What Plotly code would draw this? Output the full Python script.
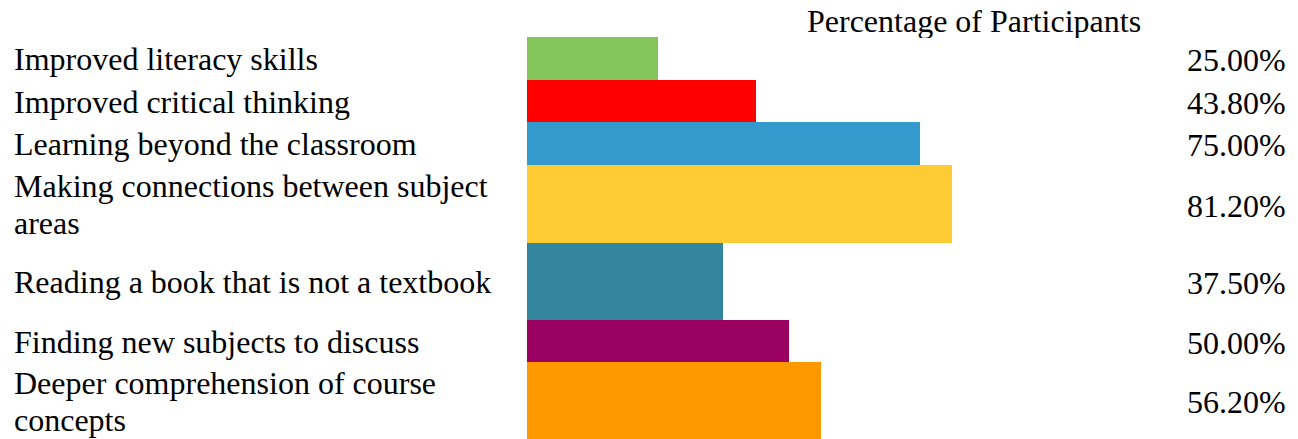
import numpy as np
import plotly.graph_objects as go

categories = [
    "Improved literacy skills",
    "Improved critical thinking",
    "Learning beyond the classroom",
    "Making connections between subject<br>areas",
    "Reading a book that is not a textbook",
    "Finding new subjects to discuss",
    "Deeper comprehension of course<br>concepts",
]
values = [25.0, 43.8, 75.0, 81.2, 37.5, 50.0, 56.2]
value_labels = ["25.00%", "43.80%", "75.00%", "81.20%", "37.50%", "50.00%", "56.20%"]
colors = ["#84C55B", "#FF0000", "#3499CC", "#FFCB33", "#33869E", "#990060", "#FF9900"]

# relative row heights (layout, not data)
row_heights = np.array([1.0, 0.98, 1.0, 1.82, 1.8, 0.98, 1.8])
edges = np.concatenate([[0], np.cumsum(row_heights)])
centers = (edges[:-1] + edges[1:]) / 2
total = edges[-1]

W, H = 1298, 439
ml, mt = 527, 37
mr = W - 1285
mb = 0
plot_w = W - ml - mr
plot_h = H - mt - mb
px_per_pct = 5.238
xmax = plot_w / px_per_pct

font = dict(family="Liberation Serif, Times New Roman, serif", size=32, color="#000000")
line_gap = 37

fig = go.Figure()
fig.add_trace(go.Bar(
    x=values, y=centers, width=row_heights, orientation="h",
    marker=dict(color=colors, line=dict(width=0)),
    base=0, hoverinfo="skip", showlegend=False,
))

annotations = []
for c, lab, vl in zip(centers, categories, value_labels):
    lines = lab.split("<br>")
    n = len(lines)
    for i, ln in enumerate(lines):
        shift = ((n - 1) / 2 - i) * line_gap - 1
        annotations.append(dict(
            x=(12 - ml) / plot_w, xref="paper", y=c, yref="y", yshift=shift,
            text=ln, showarrow=False, xanchor="left", yanchor="middle",
            align="left", font=font,
        ))
    annotations.append(dict(
        x=1, xref="paper", y=c, yref="y", xshift=3, yshift=-2,
        text=vl, showarrow=False, xanchor="right", yanchor="middle",
        align="right", font=font,
    ))
annotations.append(dict(
    x=(974 - ml) / plot_w, xref="paper", y=1 + (mt - 21) / plot_h, yref="paper",
    text="Percentage of Participants", showarrow=False, xanchor="center", yanchor="middle",
    height=34, valign="middle", font=font,
))

fig.update_layout(
    width=W, height=H,
    margin=dict(l=ml, r=mr, t=mt, b=mb, pad=0),
    paper_bgcolor="white", plot_bgcolor="white",
    xaxis=dict(range=[0, xmax], visible=False, fixedrange=True),
    yaxis=dict(range=[total, 0], visible=False, fixedrange=True),
    annotations=annotations,
    bargap=0,
)

fig.write_html(
    "out.html",
    config={"displayModeBar": False},
    post_script="document.body.style.margin='0px';",
)
